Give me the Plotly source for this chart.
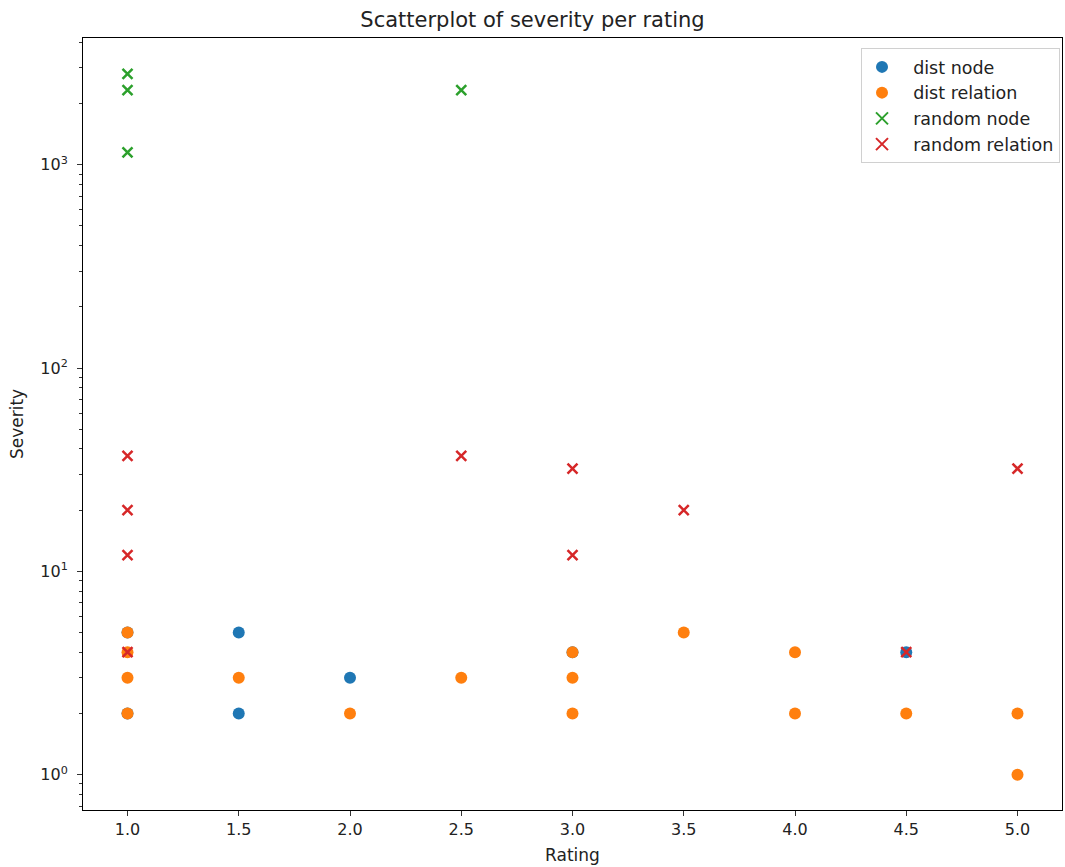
import plotly.graph_objects as go
import math

# Data
dist_node_x = [1.5, 1.5, 2.0, 4.5, 1.0, 1.0, 3.0]
dist_node_y = [5, 2, 3, 4, 5, 2, 4]
dist_rel_x = [1.0, 1.0, 1.0, 1.0, 1.5, 2.0, 2.5, 3.0, 3.0, 3.0, 3.5, 4.0, 4.0, 4.5, 5.0, 5.0]
dist_rel_y = [5, 4, 3, 2, 3, 2, 3, 4, 3, 2, 5, 4, 2, 2, 2, 1]
rand_node_x = [1.0, 1.0, 1.0, 2.5]
rand_node_y = [2800, 2330, 1150, 2330]
rand_rel_x = [1.0, 1.0, 1.0, 1.0, 2.5, 3.0, 3.0, 3.5, 4.5, 5.0]
rand_rel_y = [37, 20, 12, 4, 37, 32, 12, 20, 4, 32]
series_names = ["dist node", "dist relation", "random node", "random relation"]
x_ticks = [1.0, 1.5, 2.0, 2.5, 3.0, 3.5, 4.0, 4.5, 5.0]
y_ticks = [1, 10, 100, 1000]

font = "DejaVu Sans"
pad = "\u00a0\u00a0"
fig = go.Figure()
circ = dict(symbol="circle", size=12, line=dict(width=0))
xs = dict(symbol="x-thin-open", size=10)
fig.add_trace(go.Scatter(x=dist_node_x, y=dist_node_y, mode="markers", name=pad + series_names[0],
                         marker=dict(color="#1f77b4", **circ)))
fig.add_trace(go.Scatter(x=dist_rel_x, y=dist_rel_y, mode="markers", name=pad + series_names[1],
                         marker=dict(color="#ff7f0e", **circ)))
fig.add_trace(go.Scatter(x=rand_node_x, y=rand_node_y, mode="markers", name=pad + series_names[2],
                         marker=dict(color="#2ca02c", line=dict(width=2.5, color="#2ca02c"), **xs)))
fig.add_trace(go.Scatter(x=rand_rel_x, y=rand_rel_y, mode="markers", name=pad + series_names[3],
                         marker=dict(color="#d62728", line=dict(width=2.5, color="#d62728"), **xs)))

minor = [m * 10 ** e for e in range(-1, 4) for m in range(2, 10)]
L, R, T, B = 83, 3, 38, 57
pw, ph = 1065 - L - R, 867 - T - B
fig.update_layout(
    width=1065, height=867,
    margin=dict(l=L, r=R, t=T, b=B, autoexpand=False),
    paper_bgcolor="white", plot_bgcolor="white",
    font=dict(family=font, size=16, color="#222"),
    title=dict(text="Scatterplot of severity per rating", x=0.5, xanchor="center",
               y=1 - 20 / 867, yanchor="middle", font=dict(size=21, color="#222")),
    showlegend=True,
    legend=dict(x=(861 - L) / pw, y=1 - (48 - T) / ph, xanchor="left", yanchor="top",
                bordercolor="#d0d0d0", borderwidth=1, bgcolor="rgba(255,255,255,0.8)",
                font=dict(size=17.5), itemsizing="constant", tracegroupgap=0),
)
fig.update_xaxes(
    range=[0.8, 5.2], tickvals=x_ticks,
    ticktext=["%.1f" % v for v in x_ticks],
    showgrid=False, zeroline=False, showline=True, linecolor="black", linewidth=1,
    mirror=True, ticks="outside", ticklen=5, tickcolor="#333", automargin=False,
    title=dict(text="Rating", font=dict(size=17), standoff=10),
    tickfont=dict(size=16),
)
fig.update_yaxes(
    type="log", range=[math.log10(0.67), math.log10(4200)],
    tickvals=y_ticks, ticktext=["10<sup>%d</sup>" % round(math.log10(v)) for v in y_ticks],
    showgrid=False, zeroline=False, showline=True, linecolor="black", linewidth=1,
    mirror=True, ticks="outside", ticklen=5, tickcolor="#333", automargin=False,
    minor=dict(tickvals=minor, ticks="outside", ticklen=3, tickcolor="#333", showgrid=False),
    title=dict(text="Severity", font=dict(size=17), standoff=12),
    tickfont=dict(size=16), ticklabelstandoff=6,
)
fig.write_html("out.html", config={"displayModeBar": False},
               post_script="document.body.style.margin='0';document.body.style.overflow='hidden';")
